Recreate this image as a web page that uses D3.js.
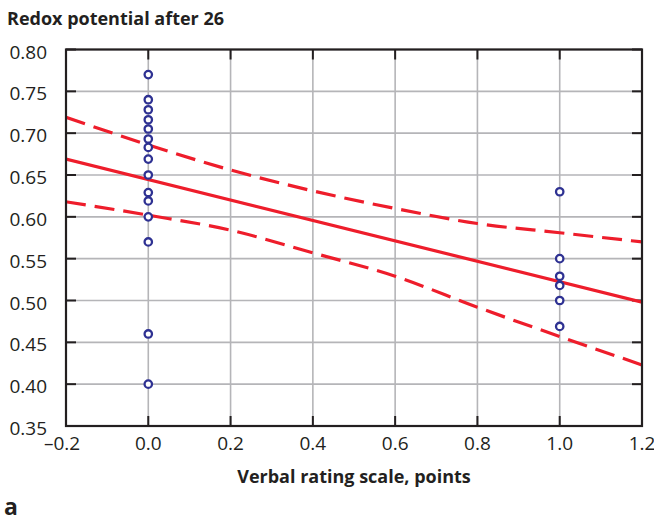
<!DOCTYPE html>
<html>
<head>
<meta charset="utf-8">
<script src="https://cdn.jsdelivr.net/npm/d3@7"></script>
<style>
  body { margin: 0; background: #fff; }
  text { font-family: "Open Sans", "Noto Sans", sans-serif; fill: #231f20; }
</style>
</head>
<body>
<script>
// values
const xTicks = [-0.2, 0, 0.2, 0.4, 0.6, 0.8, 1.0, 1.2];
const yTicks = [0.35, 0.40, 0.45, 0.50, 0.55, 0.60, 0.65, 0.70, 0.75, 0.80];

const scoreZero = [0.770, 0.740, 0.728, 0.716, 0.705, 0.693, 0.683, 0.669, 0.650, 0.629, 0.619, 0.600, 0.570, 0.460, 0.400];
const scoreOne = [0.630, 0.550, 0.529, 0.518, 0.500, 0.469];

const fitX = [-0.2, 1.2];
const fitY = [0.669, 0.498];

const ciX = [-0.2, 0, 0.2, 0.4, 0.6, 0.8, 1.0, 1.2];
const ciUpper = [0.719, 0.686, 0.656, 0.631, 0.610, 0.592, 0.581, 0.570];
const ciLower = [0.618, 0.602, 0.584, 0.557, 0.529, 0.492, 0.457, 0.423];

let width, height, padLeft, padRight, padTop, padBottom;
width = 654;
height = 522;
padLeft = 66;
padRight = 642;
padTop = 49.5;
padBottom = 426;

const svg = d3.select('body')
    .append('svg')
    .attr('width', width)
    .attr('height', height);

const xScale = d3.scaleLinear().domain([-0.2, 1.2]).range([padLeft, padRight]);
const yScale = d3.scaleLinear().domain([0.35, 0.80]).range([padBottom, padTop]);

// grid
svg.append('g')
    .selectAll('line')
    .data(xTicks)
    .enter()
    .append('line')
    .attr('x1', d => xScale(d)).attr('x2', d => xScale(d))
    .attr('y1', padTop).attr('y2', padBottom)
    .attr('stroke', '#b5b5b8').attr('stroke-width', 1.6);

svg.append('g')
    .selectAll('line')
    .data(yTicks)
    .enter()
    .append('line')
    .attr('x1', padLeft).attr('x2', padRight)
    .attr('y1', d => yScale(d)).attr('y2', d => yScale(d))
    .attr('stroke', '#b5b5b8').attr('stroke-width', 1.6);

// inner ticks on all four sides
const tickLen = 10;
const ticks = svg.append('g').attr('stroke', '#231f20').attr('stroke-width', 2);
xTicks.forEach(t => {
    ticks.append('line').attr('x1', xScale(t)).attr('x2', xScale(t)).attr('y1', padBottom).attr('y2', padBottom - tickLen);
    ticks.append('line').attr('x1', xScale(t)).attr('x2', xScale(t)).attr('y1', padTop).attr('y2', padTop + tickLen);
});
yTicks.forEach(t => {
    ticks.append('line').attr('x1', padLeft).attr('x2', padLeft + tickLen).attr('y1', yScale(t)).attr('y2', yScale(t));
    ticks.append('line').attr('x1', padRight).attr('x2', padRight - tickLen).attr('y1', yScale(t)).attr('y2', yScale(t));
});

// tick labels
svg.append('g')
    .selectAll('text')
    .data(yTicks)
    .enter()
    .append('text')
    .attr('x', 47)
    .attr('y', d => yScale(d) + 4)
    .attr('text-anchor', 'end')
    .attr('dominant-baseline', 'middle')
    .style('font-size', '19px')
    .text(d => d3.format('.2f')(d));

svg.append('g')
    .selectAll('text')
    .data(xTicks)
    .enter()
    .append('text')
    .attr('x', d => xScale(d) - (d < 0 ? 4 : 0))
    .attr('y', 450)
    .attr('text-anchor', 'middle')
    .style('font-size', '19px')
    .text(d => d3.format('.1f')(d).replace('-', '\u2013').replace('\u2212', '\u2013'));

// clip for the lines
svg.append('clipPath').attr('id', 'plot')
    .append('rect')
    .attr('x', padLeft).attr('y', padTop)
    .attr('width', padRight - padLeft).attr('height', padBottom - padTop);

const line = d3.line()
    .x(d => xScale(d[0]))
    .y(d => yScale(d[1]))
    .curve(d3.curveMonotoneX);

const lines = svg.append('g').attr('clip-path', 'url(#plot)');

lines.append('path')
    .attr('d', line(d3.zip(ciX, ciUpper)))
    .attr('fill', 'none')
    .attr('stroke', '#ee1d2b')
    .attr('stroke-width', 3.2)
    .attr('stroke-dasharray', '20 9');

lines.append('path')
    .attr('d', line(d3.zip(ciX, ciLower)))
    .attr('fill', 'none')
    .attr('stroke', '#ee1d2b')
    .attr('stroke-width', 3.2)
    .attr('stroke-dasharray', '20 9');

lines.append('path')
    .attr('d', line(d3.zip(fitX, fitY)))
    .attr('fill', 'none')
    .attr('stroke', '#ee1d2b')
    .attr('stroke-width', 3.2);

// points
const pts = scoreZero.map(v => [0, v]).concat(scoreOne.map(v => [1, v]));
svg.append('g')
    .selectAll('circle')
    .data(pts)
    .enter()
    .append('circle')
    .attr('cx', d => xScale(d[0]))
    .attr('cy', d => yScale(d[1]))
    .attr('r', 3.7)
    .attr('fill', '#fff')
    .attr('stroke', '#2e3192')
    .attr('stroke-width', 2.3);

// frame
svg.append('rect')
    .attr('x', padLeft).attr('y', padTop)
    .attr('width', padRight - padLeft).attr('height', padBottom - padTop)
    .attr('fill', 'none')
    .attr('stroke', '#231f20')
    .attr('stroke-width', 2.2);

// titles
svg.append('text')
    .attr('x', 7).attr('y', 25)
    .style('font-size', '18px').style('font-weight', 'bold')
    .text('Redox potential after 26');

svg.append('text')
    .attr('x', 354).attr('y', 483)
    .attr('text-anchor', 'middle')
    .style('font-size', '18px').style('font-weight', 'bold')
    .text('Verbal rating scale, points');

svg.append('text')
    .attr('x', 4).attr('y', 515)
    .style('font-size', '23px').style('font-weight', 'bold')
    .text('a');
</script>
</body>
</html>
